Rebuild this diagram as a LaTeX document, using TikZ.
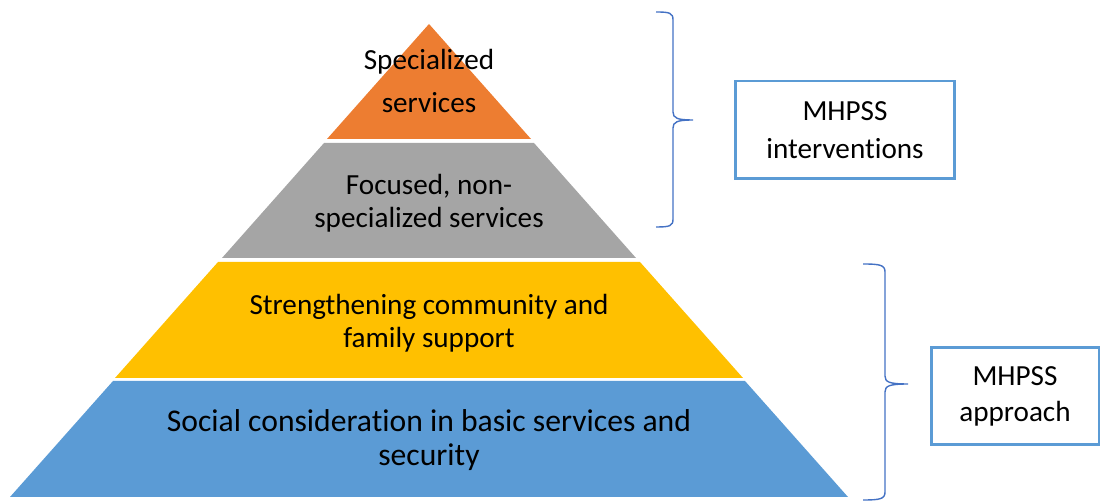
\documentclass[tikz,border=0pt]{standalone}
\usepackage{fontspec}
\setmainfont{Carlito}[Ligatures=NoCommon]

\definecolor{topo}{RGB}{237,125,49}
\definecolor{focado}{RGB}{165,165,165}
\definecolor{comunidade}{RGB}{255,192,0}
\definecolor{base}{RGB}{91,155,213}
\definecolor{chave}{RGB}{68,114,196}

\begin{document}
\begin{tikzpicture}[x=0.02cm, y=-0.02cm,
    camada/.style={align=center, inner sep=0pt, font=\fontsize{16.6}{18.7}\selectfont},
    caixa/.style={draw=base, line width=1.7pt, align=center, inner sep=0pt, font=\fontsize{16.6}{21.5}\selectfont},
    chaveta/.style={chave, line width=0.8pt}]
        \useasboundingbox (0,0) rectangle (1102,502);

        % pyramid layers
        \fill[topo] (429,24) -- (531,139) -- (327,139) -- cycle;
        \fill[focado] (324,143) -- (534,143) -- (636,258) -- (222,258) -- cycle;
        \fill[comunidade] (218,262) -- (640,262) -- (743,378) -- (115,378) -- cycle;
        \fill[base] (113,381) -- (745,381) -- (848,497) -- (10,497) -- cycle;

        \node[camada] (spec) at (429,81) {Specialized\\[5.5pt]services};
        \node[camada] (focused) at (429,203) {Focused, non-\\specialized services};
        \node[camada] (strength) at (429,323) {Strengthening community and\\family support};
        \node[camada, font=\fontsize{18}{19.8}\selectfont] (social) at (429,440) {Social consideration in basic services and\\security};

        % braces
        \draw[chaveta] (656,12) .. controls (670,12) and (673,13) .. (673,20) -- (673,112)
            .. controls (673,118) and (677,120) .. (693,120)
            .. controls (677,120) and (673,122) .. (673,128) -- (673,219)
            .. controls (673,226) and (670,227) .. (656,227);
        \draw[chaveta] (863,264) .. controls (880,264) and (885,265) .. (885,272) -- (885,376)
            .. controls (885,382) and (889,384) .. (908,384)
            .. controls (889,384) and (885,386) .. (885,392) -- (885,492)
            .. controls (885,499) and (880,500) .. (863,500);

        % boxes
        \node[caixa, minimum width=4.4cm, minimum height=1.96cm] (interv) at (845,130) {MHPSS\\interventions};
        \node[caixa, minimum width=3.36cm, minimum height=1.94cm, font=\fontsize{16.6}{20.5}\selectfont] (approach) at (1015,396) {MHPSS\\approach};
\end{tikzpicture}
\end{document}
